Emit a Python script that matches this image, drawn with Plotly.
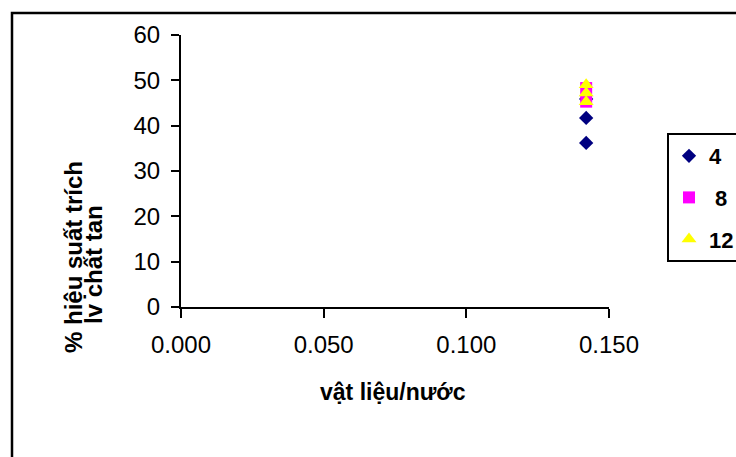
import plotly.graph_objects as go

# Data
ratio_x = 0.142
series_names = ["4", "\u00a08", "12"]
series_4 = [45.9, 41.7, 36.2]
series_8 = [48.3, 45.3]
series_12 = [49.0, 47.2, 45.3]
x_ticks = [0.0, 0.05, 0.10, 0.15]
x_tick_labels = ["0.000", "0.050", "0.100", "0.150"]
y_ticks = [0, 10, 20, 30, 40, 50, 60]

FONT = "Arial, 'Liberation Sans', sans-serif"

W, H = 736, 457
L, R, T, B = 181, 127, 35, 150
PW = W - L - R
PH = H - T - B


def px_x(px):
    return (px - L) / PW


def px_y(py):
    return (H - B - py) / PH


fig = go.Figure()
fig.add_trace(go.Scatter(
    x=[ratio_x] * len(series_4), y=series_4, mode="markers", name=series_names[0],
    legendgroup="a",
    marker=dict(symbol="diamond", size=11, color="#000080", line=dict(width=0)),
))
fig.add_trace(go.Scatter(
    x=[ratio_x] * len(series_8), y=series_8, mode="markers", name=series_names[1],
    legendgroup="b",
    marker=dict(symbol="square", size=12, color="#FF00FF", line=dict(width=0)),
))
fig.add_trace(go.Scatter(
    x=[ratio_x] * len(series_12), y=series_12, mode="markers", name=series_names[2],
    legendgroup="c",
    marker=dict(symbol="triangle-up", size=13, color="#FFFF00", line=dict(width=0)),
))

fig.update_layout(
    width=W, height=H,
    margin=dict(l=L, r=R, t=T, b=B, autoexpand=False),
    paper_bgcolor="white", plot_bgcolor="white",
    font=dict(family=FONT, color="black", size=24),
    showlegend=True,
    legend=dict(
        x=px_x(667), y=px_y(133), xanchor="left", yanchor="top",
        bordercolor="black", borderwidth=2, bgcolor="white",
        font=dict(family=FONT, size=22, color="black", weight="bold"),
        tracegroupgap=10, itemwidth=30,
    ),
    xaxis=dict(
        range=[0, 0.15], tickvals=x_ticks, ticktext=x_tick_labels,
        showgrid=False, zeroline=False, showline=True, linecolor="black", linewidth=2,
        ticks="outside", ticklen=9, tickwidth=2, tickcolor="black",
        tickfont=dict(family=FONT, size=24, color="black"),
        ticklabelstandoff=6,
    ),
    yaxis=dict(
        range=[0, 60], tickvals=y_ticks,
        showgrid=False, zeroline=False, showline=True, linecolor="black", linewidth=2,
        ticks="outside", ticklen=8, tickwidth=2, tickcolor="black",
        tickfont=dict(family=FONT, size=24, color="black"),
        ticklabelstandoff=6,
    ),
    shapes=[
        dict(type="rect", xref="paper", yref="paper",
             x0=px_x(12), x1=px_x(745), y0=px_y(470), y1=px_y(13),
             line=dict(color="black", width=2.5), fillcolor="rgba(0,0,0,0)", layer="below"),
    ],
    annotations=[
        dict(text="<b>vật liệu/nước</b>", xref="paper", yref="paper",
             x=px_x(393), y=px_y(392), xanchor="center", yanchor="middle", showarrow=False,
             font=dict(family=FONT, size=23, color="black")),
        dict(text="<b>% hiệu suất trích</b>", xref="paper", yref="paper",
             x=px_x(73), y=px_y(257), xanchor="center", yanchor="middle",
             showarrow=False, textangle=-90,
             font=dict(family=FONT, size=24, color="black")),
        dict(text="<b>lv chất tan</b>", xref="paper", yref="paper",
             x=px_x(93), y=px_y(265), xanchor="center", yanchor="middle",
             showarrow=False, textangle=-90,
             font=dict(family=FONT, size=24, color="black")),
    ],
)

fig.write_html("out.html")
